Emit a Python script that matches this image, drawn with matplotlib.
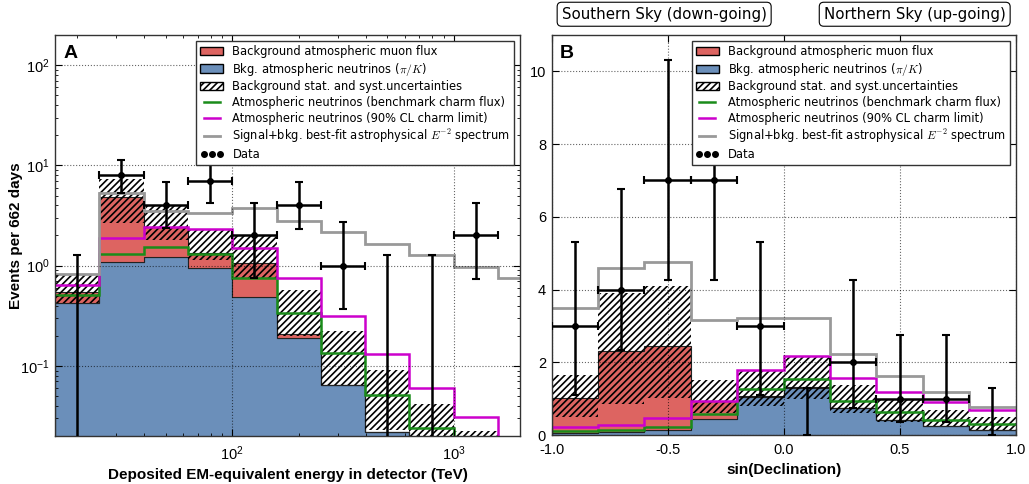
import numpy as np
import matplotlib.pyplot as plt
import matplotlib.transforms as mtransforms
from matplotlib.patches import Patch
from matplotlib.lines import Line2D

plt.rcParams['font.family'] = ['Liberation Sans', 'DejaVu Sans']
plt.rcParams['mathtext.fontset'] = 'cm'
plt.rcParams['hatch.linewidth'] = 1.2

# ---------------------------------------------------------------------------
# Panel A: deposited energy (TeV), log bins
# ---------------------------------------------------------------------------
e_edges = [15.85, 25.12, 39.81, 63.10, 100.0, 158.5, 251.2, 398.1, 631.0, 1000.0, 1585.0, 2512.0]
a_nu = [0.42, 1.08, 1.21, 0.94, 0.49, 0.19, 0.064, 0.022, 0.018, 0.008, 0.003]
a_mu = [0.13, 3.80, 1.24, 0.39, 0.57, 0.02, 0.0, 0.0, 0.0, 0.0, 0.0]
a_unc_lo = [0.42, 2.65, 1.80, 1.14, 0.75, 0.20, 0.065, 0.023, 0.015, 0.010, 0.005]
a_unc_hi = [0.82, 7.40, 4.00, 2.27, 2.02, 0.57, 0.225, 0.091, 0.042, 0.0226, 0.008]
a_charm = [0.51, 1.30, 1.55, 1.30, 0.76, 0.335, 0.134, 0.051, 0.024, 0.013, 0.006]
a_charm_lim = [0.64, 1.88, 2.45, 2.30, 1.49, 0.75, 0.318, 0.132, 0.060, 0.031, 0.014]
a_signal = [0.82, 5.35, 3.53, 3.37, 3.79, 2.81, 2.18, 1.65, 1.28, 0.98, 0.75]
a_data = [0, 8, 4, 7, 2, 4, 1, 0, 0, 2]
a_data_lo = [0, 5.30, 2.36, 4.25, 0.75, 2.33, 0.37, 0, 0, 0.74]
a_data_hi = [1.29, 11.3, 6.77, 10.3, 4.25, 6.80, 2.75, 1.29, 1.29, 4.25]

# ---------------------------------------------------------------------------
# Panel B: sin(declination)
# ---------------------------------------------------------------------------
d_edges = [-1.0, -0.8, -0.6, -0.4, -0.2, 0.0, 0.2, 0.4, 0.6, 0.8, 1.0]
b_nu = [0.06, 0.08, 0.15, 0.43, 1.05, 1.29, 0.73, 0.41, 0.25, 0.15]
b_mu = [0.95, 2.22, 2.31, 0.51, 0.02, 0.02, 0.01, 0.0, 0.0, 0.0]
b_unc_lo = [0.49, 0.85, 1.01, 0.60, 0.80, 0.98, 0.60, 0.37, 0.24, 0.15]
b_unc_hi = [1.65, 3.90, 4.10, 1.50, 1.79, 2.18, 1.37, 0.96, 0.69, 0.49]
b_charm = [0.10, 0.13, 0.23, 0.58, 1.26, 1.54, 0.93, 0.62, 0.42, 0.29]
b_charm_lim = [0.21, 0.27, 0.46, 0.94, 1.79, 2.18, 1.56, 1.19, 0.91, 0.68]
b_signal = [3.50, 4.59, 4.77, 3.15, 3.22, 3.22, 2.23, 1.61, 1.17, 0.77]
b_data = [3, 4, 7, 7, 3, 0, 2, 1, 1, 0]
b_data_lo = [1.10, 2.33, 4.25, 4.25, 1.10, 0, 0.73, 0.37, 0.37, 0]
b_data_hi = [5.32, 6.77, 10.3, 10.3, 5.32, 1.29, 4.27, 2.75, 2.75, 1.29]

RED = '#dd6461'
BLUE = '#6b8fba'
GREEN = '#1a8c1a'
MAGENTA = '#cc00cc'
GRAY = '#999999'

labels = [
    'Background atmospheric muon flux',
    r'Bkg. atmospheric neutrinos ($\pi/K$)',
    'Background stat. and syst.uncertainties',
    'Atmospheric neutrinos (benchmark charm flux)',
    'Atmospheric neutrinos (90% CL charm limit)',
    r'Signal+bkg. best-fit astrophysical $E^{-2}$ spectrum',
    'Data',
]


def draw_panel(ax, edges, nu, mu, lo, hi, charm, charm_lim, signal,
               data, dlo, dhi, centers, floor):
    edges = np.asarray(edges)
    nu = np.asarray(nu)
    mu = np.asarray(mu)
    ax.stairs(nu, edges, baseline=floor, fill=True, facecolor=BLUE,
              edgecolor='#222222', lw=0.8)
    ax.stairs(nu + mu, edges, baseline=nu, fill=True, facecolor=RED,
              edgecolor='#222222', lw=0.8)
    ax.stairs(hi, edges, baseline=lo, fill=True, facecolor='none',
              edgecolor='black', hatch='/////', lw=0)
    ax.stairs(charm, edges, color=GREEN, lw=1.8, baseline=None)
    ax.stairs(charm_lim, edges, color=MAGENTA, lw=1.8, baseline=None)
    ax.stairs(signal, edges, color=GRAY, lw=2.0, baseline=None)

    data = np.asarray(data, dtype=float)
    dlo = np.asarray(dlo, dtype=float)
    dhi = np.asarray(dhi, dtype=float)
    n = len(data)
    nz = data > 0
    xl = centers - edges[:n]
    xr = edges[1:n + 1] - centers
    ax.errorbar(centers[nz], data[nz],
                yerr=[data[nz] - dlo[nz], dhi[nz] - data[nz]],
                xerr=[xl[nz], xr[nz]], fmt='o', color='black', ms=4,
                elinewidth=1.8, capsize=3, capthick=1.5, zorder=5)
    ax.errorbar(centers[~nz], data[~nz], yerr=[data[~nz], dhi[~nz]],
                fmt='none', ecolor='black', elinewidth=1.8, capsize=3,
                capthick=1.5, zorder=5)

    ax.grid(True, which='major', ls=':', color='black', lw=0.8, alpha=0.6)
    ax.tick_params(which='both', direction='in', top=True, right=True,
                   labelsize=10.5)
    ax.tick_params(which='major', length=5)
    ax.tick_params(which='minor', length=2.5)
    for s in ax.spines.values():
        s.set_color('#333333')
        s.set_linewidth(1.0)

    handles = [
        Patch(facecolor=RED, edgecolor='black'),
        Patch(facecolor=BLUE, edgecolor='black'),
        Patch(facecolor='white', edgecolor='black', hatch='/////'),
        Line2D([], [], color=GREEN, lw=1.8),
        Line2D([], [], color=MAGENTA, lw=1.8),
        Line2D([], [], color=GRAY, lw=2.0),
        Line2D([], [], color='black', marker='o', ls='none', ms=4),
    ]
    leg = ax.legend(handles, labels, loc='upper right', numpoints=3,
                    prop={'family': 'DejaVu Sans', 'size': 8.3},
                    labelspacing=0.24, fancybox=False, framealpha=1,
                    borderaxespad=0.5, handlelength=2.0, borderpad=0.35)
    leg.get_frame().set_edgecolor('#333333')
    leg.get_frame().set_linewidth(1.0)
    leg.set_zorder(10)


fig = plt.figure(figsize=(10.29, 4.84), dpi=100)
axA = fig.add_axes([0.0535, 0.0992, 0.452, 0.8285])
axB = fig.add_axes([0.5361, 0.1012, 0.4509, 0.8264])

# Panel A
axA.set_xscale('log')
axA.set_yscale('log')
ea = np.asarray(e_edges)
centers_a = np.sqrt(ea[:-1] * ea[1:])[:len(a_data)]
draw_panel(axA, e_edges, a_nu, a_mu, a_unc_lo, a_unc_hi, a_charm,
           a_charm_lim, a_signal, a_data, a_data_lo, a_data_hi,
           centers_a, 1e-3)
axA.set_xlim(15.85, 1995)
axA.set_ylim(0.02, 200)
axA.tick_params(axis='x', which='major', pad=6)
axA.tick_params(axis='y', which='major', pad=4)
axA.set_xlabel('Deposited EM-equivalent energy in detector (TeV)',
               fontsize=11, fontweight='bold')
axA.set_ylabel('Events per 662 days', fontsize=11, fontweight='bold')
axA.yaxis.set_label_coords(-0.068, 0.5)
axA.text(0.018, 0.976, 'A', transform=axA.transAxes, ha='left', va='top',
         fontsize=14, fontweight='bold')

# Panel B
db = np.asarray(d_edges)
centers_b = 0.5 * (db[:-1] + db[1:])
draw_panel(axB, d_edges, b_nu, b_mu, b_unc_lo, b_unc_hi, b_charm,
           b_charm_lim, b_signal, b_data, b_data_lo, b_data_hi,
           centers_b, 0.0)
axB.set_xlim(-1, 1)
axB.set_ylim(0, 11)
axB.set_xticks([-1.0, -0.5, 0.0, 0.5, 1.0])
axB.set_xticklabels(['-1.0', '-0.5', '0.0', '0.5', '1.0'])
axB.set_yticks([0, 2, 4, 6, 8, 10])
axB.tick_params(axis='x', which='major', pad=6)
axB.tick_params(axis='y', which='major', pad=4)
axB.set_xlabel('sin(Declination)', fontsize=11, fontweight='bold')
axB.text(0.018, 0.976, 'B', transform=axB.transAxes, ha='left', va='top',
         fontsize=14, fontweight='bold')

trans = mtransforms.blended_transform_factory(axB.transData, axB.transAxes)
box = dict(boxstyle='round,pad=0.3', fc='white', ec='black', lw=0.8)
axB.text(-0.515, 1.052, 'Southern Sky (down-going)', transform=trans,
         ha='center', va='center', fontsize=10.8, family='DejaVu Sans', bbox=box)
axB.text(0.565, 1.052, 'Northern Sky (up-going)', transform=trans,
         ha='center', va='center', fontsize=10.8, family='DejaVu Sans', bbox=box)

fig.savefig('out.png', dpi=100)
